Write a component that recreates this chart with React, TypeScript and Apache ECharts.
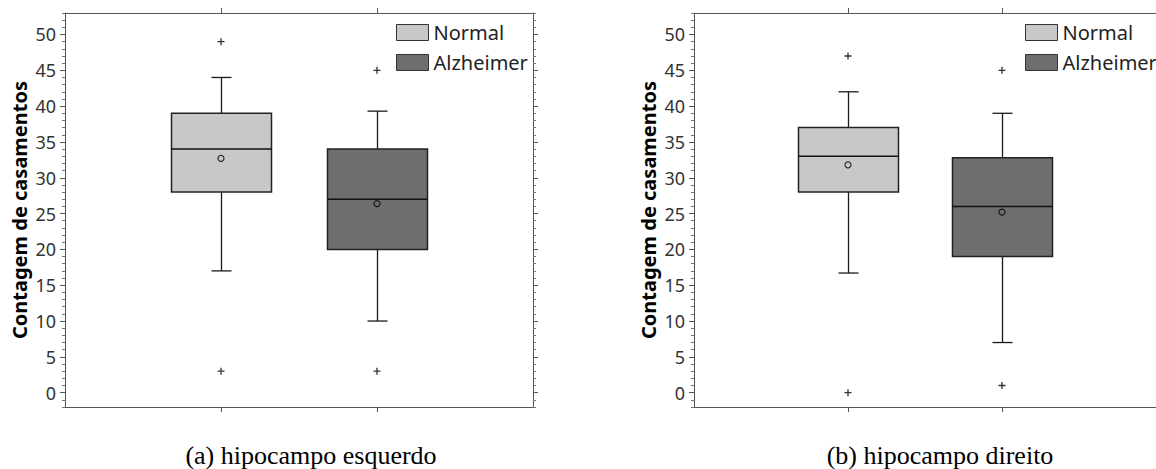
import React, { useEffect, useRef } from "react";
import * as echarts from "echarts";

// ---- data ----
const groupNames = ["Normal", "Alzheimer"];
const groupPositions = [1, 2];
const yTickValues = [0, 5, 10, 15, 20, 25, 30, 35, 40, 45, 50];

// [lower whisker, Q1, median, Q3, upper whisker]
const leftNormalBox = [17, 28, 34, 39, 44];
const leftAlzBox = [10, 20, 27, 34, 39.3];
const leftNormalMean = 32.7;
const leftAlzMean = 26.4;
const leftNormalOutliers = [49, 3];
const leftAlzOutliers = [45, 3];

const rightNormalBox = [16.7, 28, 33, 37, 42];
const rightAlzBox = [7, 19, 26, 32.8, 39];
const rightNormalMean = 31.8;
const rightAlzMean = 25.2;
const rightNormalOutliers = [47, 0];
const rightAlzOutliers = [45, 1];

const captions = ["(a) hipocampo esquerdo", "(b) hipocampo direito"];
const yName = "Contagem de casamentos";

const colorNormal = "#c8c8c8";
const colorAlz = "#6e6e6e";
const axisColor = "#555";
const FONT = "Noto Sans";

const PLUS =
  "path://M-0.19,-1 L0.19,-1 L0.19,-0.19 L1,-0.19 L1,0.19 L0.19,0.19 L0.19,1 L-0.19,1 L-0.19,0.19 L-1,0.19 L-1,-0.19 L-0.19,-0.19 Z";

const GRIDS = [
  { left: 65, top: 13, width: 468, height: 394 },
  { left: 694, top: 13, width: 468, height: 394 },
];

function boxRender(params: any, api: any) {
  const x = api.value(0);
  const lo = api.coord([x, api.value(1)]);
  const q1 = api.coord([x, api.value(2)]);
  const md = api.coord([x, api.value(3)]);
  const q3 = api.coord([x, api.value(4)]);
  const hi = api.coord([x, api.value(5)]);
  const cx = Math.round(lo[0]) + 0.5;
  const half = 50;
  const cap = 10;
  const fill = api.visual("color");
  const ls = { stroke: "#1a1a1a", lineWidth: 1.3 };
  return {
    type: "group",
    children: [
      { type: "line", shape: { x1: cx, y1: hi[1], x2: cx, y2: q3[1] }, style: ls },
      { type: "line", shape: { x1: cx, y1: q1[1], x2: cx, y2: lo[1] }, style: ls },
      { type: "line", shape: { x1: cx - cap, y1: hi[1], x2: cx + cap, y2: hi[1] }, style: ls },
      { type: "line", shape: { x1: cx - cap, y1: lo[1], x2: cx + cap, y2: lo[1] }, style: ls },
      {
        type: "rect",
        shape: { x: cx - half, y: q3[1], width: 2 * half, height: q1[1] - q3[1] },
        style: { fill, stroke: "#222", lineWidth: 1.5 },
      },
      { type: "line", shape: { x1: cx - half, y1: md[1], x2: cx + half, y2: md[1] }, style: { stroke: "#111", lineWidth: 1.5 } },
    ],
  };
}

function buildOption() {
  const xAxes: any[] = [];
  const yAxes: any[] = [];
  const series: any[] = [];
  const legends: any[] = [];
  const graphics: any[] = [];

  const panels = [
    {
      boxes: [leftNormalBox, leftAlzBox],
      means: [leftNormalMean, leftAlzMean],
      outliers: [leftNormalOutliers, leftAlzOutliers],
      legendLeft: 396,
      captionX: 311,
    },
    {
      boxes: [rightNormalBox, rightAlzBox],
      means: [rightNormalMean, rightAlzMean],
      outliers: [rightNormalOutliers, rightAlzOutliers],
      legendLeft: 1025,
      captionX: 940,
    },
  ];

  panels.forEach((p, g) => {
    const lineStyle = { color: axisColor, width: 1 };
    ["bottom", "top"].forEach((pos) => {
      xAxes.push({
        type: "value",
        gridIndex: g,
        position: pos,
        min: 0,
        max: 3,
        axisLine: { show: true, onZero: false, lineStyle },
        axisTick: { show: true, customValues: groupPositions, length: 5, lineStyle },
        axisLabel: { show: false },
        splitLine: { show: false },
      });
    });
    ["left", "right"].forEach((pos) => {
      yAxes.push({
        type: "value",
        gridIndex: g,
        position: pos,
        min: -2,
        max: 53,
        interval: 1,
        axisLine: { show: true, lineStyle },
        axisTick: { show: true, length: 3, lineStyle: { color: "#777", width: 1 } },
        axisLabel: { show: false },
        splitLine: { show: false },
      });
      yAxes.push({
        type: "value",
        gridIndex: g,
        position: pos,
        min: -2,
        max: 53,
        name: pos === "left" ? yName : "",
        nameLocation: "middle",
        nameRotate: 90,
        nameGap: 36,
        nameTextStyle: { fontFamily: FONT, fontSize: 20, fontWeight: "bold", color: "#000" },
        axisLine: { show: false },
        axisTick: { show: true, customValues: yTickValues, length: 5, lineStyle },
        axisLabel: {
          show: pos === "left",
          customValues: yTickValues,
          margin: 9,
          fontFamily: FONT,
          fontSize: 18,
          color: "#333",
        },
        splitLine: { show: false },
      });
    });

    const xBase = g * 2;
    const yBase = g * 4;
    groupNames.forEach((name, i) => {
      const color = i === 0 ? colorNormal : colorAlz;
      series.push({
        type: "custom",
        name,
        xAxisIndex: xBase,
        yAxisIndex: yBase,
        itemStyle: { color, borderColor: "#222", borderWidth: 1 },
        encode: { x: 0, y: [1, 2, 3, 4, 5] },
        data: [[groupPositions[i], ...p.boxes[i]]],
        renderItem: boxRender,
        z: 2,
      });
      series.push({
        type: "scatter",
        name: name + " mean",
        xAxisIndex: xBase,
        yAxisIndex: yBase,
        symbol: "circle",
        symbolSize: 6,
        itemStyle: { color: "rgba(0,0,0,0)", borderColor: "#000", borderWidth: 1.2 },
        data: [[groupPositions[i], p.means[i]]],
        z: 5,
      });
      series.push({
        type: "scatter",
        name: name + " outliers",
        xAxisIndex: xBase,
        yAxisIndex: yBase,
        symbol: PLUS,
        symbolSize: 7,
        itemStyle: { color: "#000" },
        data: p.outliers[i].map((v) => [groupPositions[i], v]),
        z: 5,
      });
    });

    legends.push({
      orient: "vertical",
      left: p.legendLeft,
      top: 22,
      padding: 0,
      itemWidth: 32,
      itemHeight: 16,
      itemGap: 9,
      icon: "rect",
      data: groupNames,
      selectedMode: false,
      textStyle: { fontFamily: FONT, fontSize: 20, color: "#222", lineHeight: 21 },
      itemStyle: { borderColor: "#333", borderWidth: 1 },
    });

    graphics.push({
      type: "text",
      x: p.captionX,
      y: 455,
      style: {
        text: captions[g],
        font: '26px "Liberation Serif"',
        fill: "#000",
        textAlign: "center",
        textVerticalAlign: "middle",
      },
    });
  });

  return {
    animation: false,
    backgroundColor: "#fff",
    grid: GRIDS,
    xAxis: xAxes,
    yAxis: yAxes,
    legend: legends,
    series,
    graphic: graphics,
  };
}

export default function App() {
  const ref = useRef<HTMLDivElement>(null);
  useEffect(() => {
    if (!ref.current) return;
    const chart = echarts.init(ref.current, undefined, { renderer: "svg" });
    chart.setOption(buildOption() as any);
    return () => chart.dispose();
  }, []);
  return (
    <div
      ref={ref}
      style={{ position: "absolute", left: 0, top: 0, width: 1156, height: 469 }}
    />
  );
}
